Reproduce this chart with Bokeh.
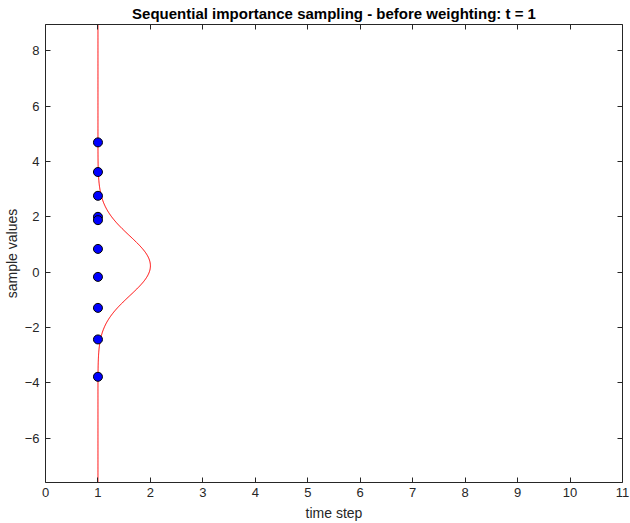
import numpy as np
from bokeh.plotting import figure
from bokeh.models import LinearAxis, FixedTicker, Range1d
from bokeh.embed import file_html
from bokeh.resources import INLINE

# data
time_steps = [1, 1, 1, 1, 1, 1, 1, 1, 1, 1]
sample_values = [4.69, 3.62, 2.76, 2.00, 1.88, 0.84, -0.17, -1.29, -2.43, -3.78]
t_current = 1
prior_mean = 0.23
prior_std = 1.08
x_ticks = list(range(0, 12))
y_ticks = [-6, -4, -2, 0, 2, 4, 6, 8]
y_lo, y_hi = -7.6, 8.95

p = figure(width=630, height=523, output_backend="svg", toolbar_location=None,
           x_range=Range1d(0, 11), y_range=Range1d(y_lo, y_hi),
           title="Sequential importance sampling - before weighting: t = 1",
           min_border_left=4, min_border_right=8, min_border_top=0, min_border_bottom=4)
p.background_fill_color = "white"
p.border_fill_color = "white"
p.outline_line_color = None
p.xgrid.visible = False
p.ygrid.visible = False

p.title.align = "center"
p.title.text_font = "Liberation Sans"
p.title.text_font_size = "15px"
p.title.text_font_style = "bold"
p.title.text_color = "#000000"
p.title.standoff = 5
p.title.offset = 0

# density curve drawn sideways at current time step
yy = np.linspace(y_lo, y_hi, 600)
dens = np.exp(-0.5 * ((yy - prior_mean) / prior_std) ** 2)
p.line(t_current + dens, yy, line_color="#ff0000", line_width=1)

p.scatter(time_steps, sample_values, size=9, fill_color="#0000ff", line_color="#000000", line_width=1)

axcol = "#262626"
for ax in [p.xaxis[0], p.yaxis[0]]:
    ax.axis_line_color = axcol
    ax.major_tick_line_color = axcol
    ax.major_tick_in = 5
    ax.major_tick_out = 0
    ax.minor_tick_line_color = None
    ax.major_label_text_font = "Liberation Sans"
    ax.major_label_text_font_size = "13px"
    ax.major_label_text_color = axcol
    ax.axis_label_text_font = "Liberation Sans"
    ax.axis_label_text_font_size = "14px"
    ax.axis_label_text_font_style = "normal"
    ax.axis_label_text_color = axcol

p.xaxis[0].ticker = FixedTicker(ticks=x_ticks)
p.yaxis[0].ticker = FixedTicker(ticks=y_ticks)
p.xaxis[0].axis_label = "time step"
p.yaxis[0].axis_label = "sample values"
p.xaxis[0].axis_label_standoff = 5
p.yaxis[0].axis_label_standoff = 2
p.xaxis[0].major_label_standoff = 5
p.yaxis[0].major_label_standoff = 6

top = LinearAxis(ticker=FixedTicker(ticks=x_ticks),
                 major_label_overrides={t: "" for t in x_ticks},
                 major_tick_in=5, major_tick_out=0, minor_tick_line_color=None,
                 axis_line_color=axcol, major_tick_line_color=axcol, major_label_standoff=0)
right = LinearAxis(ticker=FixedTicker(ticks=y_ticks),
                   major_label_overrides={t: "" for t in y_ticks},
                   major_tick_in=5, major_tick_out=0, minor_tick_line_color=None,
                   axis_line_color=axcol, major_tick_line_color=axcol, major_label_standoff=0)
p.add_layout(top, "above")
p.add_layout(right, "right")

open("out.html", "w").write(file_html(p, INLINE))
